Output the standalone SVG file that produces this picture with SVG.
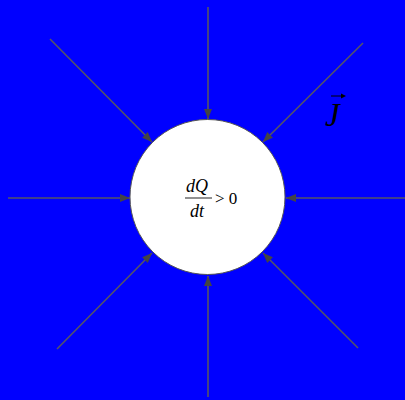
<svg xmlns="http://www.w3.org/2000/svg" width="405" height="400" viewBox="0 0 405 400">
<style>
.c{stroke:#555566;stroke-width:1.6;fill:none}
.t{font-family:"Liberation Serif","Times New Roman",serif;fill:#000}
</style>
<defs>
<marker id="ah" markerWidth="10" markerHeight="8" refX="10" refY="4" orient="auto" markerUnits="userSpaceOnUse">
<path d="M0,0 L10,4 L0,8 Z" fill="#444444"/>
</marker>
</defs>
<rect width="405" height="400" fill="#0000ff"/>
<g id="connectors">
<line class="c" x1="208" y1="7" x2="208" y2="119" marker-end="url(#ah)"/>
<line class="c" x1="208" y1="397" x2="208" y2="276" marker-end="url(#ah)"/>
<line class="c" x1="8" y1="198" x2="130" y2="198" marker-end="url(#ah)"/>
<line class="c" x1="405" y1="198" x2="286" y2="198" marker-end="url(#ah)"/>
<line class="c" x1="50" y1="39" x2="152" y2="142" marker-end="url(#ah)"/>
<line class="c" x1="363" y1="43" x2="263" y2="142" marker-end="url(#ah)"/>
<line class="c" x1="57" y1="349" x2="152" y2="253" marker-end="url(#ah)"/>
<line class="c" x1="358" y1="348" x2="263" y2="253" marker-end="url(#ah)"/>
</g>
<g id="region">
<circle cx="207.5" cy="197" r="77.5" fill="#ffffff" stroke="#555555" stroke-width="1"/>
<text class="t" x="186" y="192" font-size="18" font-style="italic">dQ</text>
<line x1="185" y1="198" x2="212" y2="198" stroke="#555" stroke-width="1.3"/>
<text class="t" x="190" y="217" font-size="18" font-style="italic">dt</text>
<text class="t" x="215" y="204" font-size="17">&gt; 0</text>
</g>
<g id="J">
<text class="t" x="325" y="126" font-size="33" font-style="italic">J</text>
<line x1="331" y1="96" x2="343" y2="96" stroke="#000" stroke-width="1"/>
<path d="M341,93.5 L346,96 L341,98.5 Z" fill="#000"/>
</g>
</svg>
